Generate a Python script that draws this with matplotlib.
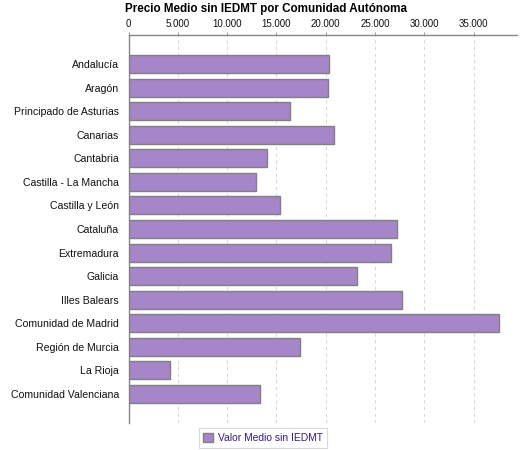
import matplotlib
matplotlib.use("Agg")
import matplotlib.pyplot as plt
from matplotlib.ticker import FuncFormatter, MultipleLocator
from matplotlib.patches import Patch

categories = ["Andalucía", "Aragón", "Principado de Asturias", "Canarias", "Cantabria",
              "Castilla - La Mancha", "Castilla y León", "Cataluña", "Extremadura",
              "Galicia", "Illes Balears", "Comunidad de Madrid", "Región de Murcia",
              "La Rioja", "Comunidad Valenciana"]
values = [20300, 20200, 16350, 20810, 14010, 12900, 15330, 27200, 26590,
          23140, 27710, 37550, 17360, 4180, 13310]
title = "Precio Medio sin IEDMT por Comunidad Autónoma"
series_name = "Valor Medio sin IEDMT"

plt.rcParams['font.family'] = ['Liberation Sans', 'DejaVu Sans']

fig = plt.figure(figsize=(5.25, 4.5), dpi=100)
W, H = 525, 450
left, right, top, bottom = 128.5, 517, 35, 423
ax = fig.add_axes([left / W, 1 - bottom / H, (right - left) / W, (bottom - top) / H])

ypos = list(range(len(categories)))
ax.barh(ypos, values, height=0.76, color="#a686c8", edgecolor="#808080", linewidth=1.0, zorder=3)
ax.set_ylim(len(categories) - 1 + 1.23, -1.23)
ax.set_xlim(0, 39400)
ax.set_yticks(ypos)
ax.set_yticklabels(categories, fontsize=7.6, color="#111111")
ax.xaxis.set_major_locator(MultipleLocator(5000))
ax.xaxis.set_major_formatter(FuncFormatter(lambda v, p: f"{int(v):,}".replace(",", ".")))
ax.xaxis.tick_top()
ax.tick_params(axis='x', labelsize=7.0, colors="#111111", length=2, width=0.6, pad=2)
ax.tick_params(axis='x', color="#888888")
ax.tick_params(axis='y', length=0, pad=7)
ax.grid(axis='x', color="#d8d8d8", linestyle=(0, (3, 3)), linewidth=0.8, zorder=0)

for s in ["right", "bottom"]:
    ax.spines[s].set_visible(False)
ax.spines["top"].set_color("#888888")
ax.spines["left"].set_color("#888888")
ax.spines["top"].set_linewidth(1.0)
ax.spines["left"].set_linewidth(1.0)

fig.text(266 / W, 1 - 9 / H, title, ha="center", va="center", fontsize=8.4, fontweight="bold")

handle = Patch(facecolor="#a686c8", edgecolor="#808080", linewidth=1.0)
leg = fig.legend([handle], [series_name], loc="center", bbox_to_anchor=(263 / W, 1 - 438 / H),
                 fontsize=7.4, frameon=True, fancybox=False, handlelength=0.95, handleheight=0.95,
                 handletextpad=0.45, borderpad=0.45, edgecolor="#d0d0d0")
for t in leg.get_texts():
    t.set_color("#3a1a78")
leg.get_frame().set_linewidth(0.8)

fig.savefig("out.png", dpi=100)
